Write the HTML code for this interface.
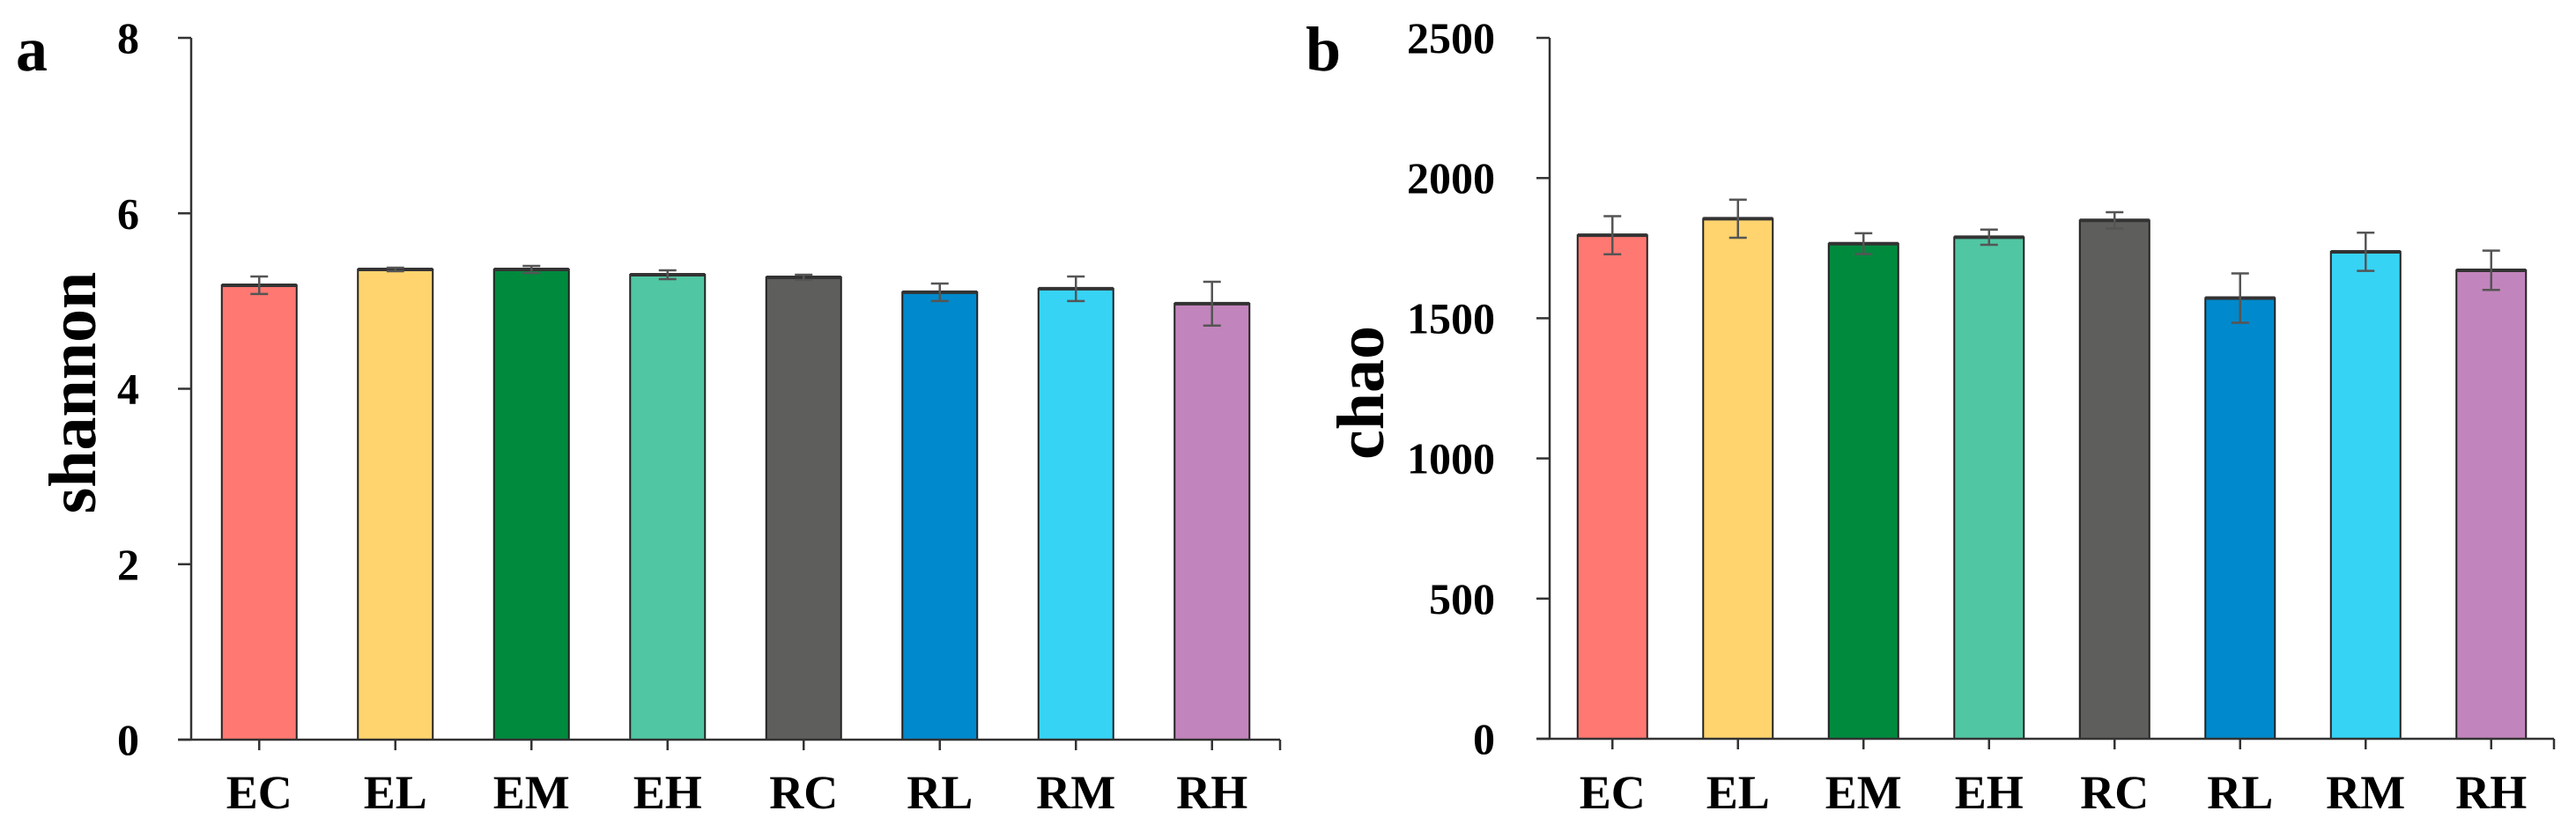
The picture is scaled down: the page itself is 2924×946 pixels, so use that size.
<!DOCTYPE html>
<html><head><meta charset="utf-8">
<style>
html,body{margin:0;padding:0;background:#fff;}
svg{display:block;font-family:"Liberation Serif",serif;font-weight:bold;}
</style></head>
<body>
<svg id="fig" width="2924" height="946" viewBox="0 0 2924 946" xmlns="http://www.w3.org/2000/svg">
<text x="18" y="80" font-size="72">a</text>
<text x="1482" y="80" font-size="72">b</text>
<g id="chartA"></g>
<g id="chartB"></g>
</svg>
<script>
const categories = ["EC","EL","EM","EH","RC","RL","RM","RH"];
const colors = ["#FF7872","#FFD46E","#008A3E","#50C6A2","#5E5E5C","#0089CC","#36D3F5","#C284BC"];
const shannonValues = [5.18,5.36,5.36,5.30,5.27,5.10,5.14,4.97];
const shannonErrors = [0.10,0.02,0.04,0.05,0.03,0.10,0.14,0.25];
const shannonTicks = [0,2,4,6,8];
const chaoValues = [1796,1855,1766,1789,1849,1572,1737,1671];
const chaoErrors = [68,68,37,27,29,88,68,70];
const chaoTicks = [0,500,1000,1500,2000,2500];

const NS="http://www.w3.org/2000/svg";
function mk(parent,tag,attrs){const e=document.createElementNS(NS,tag);for(const k in attrs)e.setAttribute(k,attrs[k]);parent.appendChild(e);return e;}

function drawChart(g, cfg, values, errors, ticks){
  const {x0,x1,y0,yTop,max,barW,title,titleX,labelRight} = cfg;
  const band=(x1-x0)/categories.length;
  const yS=v=>y0-(v/max)*(y0-yTop);
  const xC=i=>x0+band*(i+0.5);
  // bars
  values.forEach((v,i)=>{
    const r=mk(g,'rect',{x:xC(i)-barW/2,y:yS(v),width:barW,height:y0-yS(v),fill:colors[i],stroke:'#222','stroke-width':2});
    
    
    const t=mk(g,'line',{x1:xC(i)-barW/2,x2:xC(i)+barW/2,y1:yS(v),y2:yS(v),stroke:'#333','stroke-width':4});
    
    
    const e=errors[i];
    const eg=mk(g,'g',{stroke:'#555','stroke-width':2.5});
    
    
    mk(eg,'line',{x1:xC(i),x2:xC(i),y1:yS(v+e),y2:yS(v-e)});
    mk(eg,'line',{x1:xC(i)-10,x2:xC(i)+10,y1:yS(v+e),y2:yS(v+e)});
    mk(eg,'line',{x1:xC(i)-10,x2:xC(i)+10,y1:yS(v-e),y2:yS(v-e)});
    const lb=mk(g,'text',{x:xC(i),y:918,'font-size':54,'text-anchor':'middle',fill:'#000'});
    lb.textContent=categories[i];
    
    
    const tk=mk(g,'line',{x1:xC(i),x2:xC(i),y1:y0,y2:y0+12,stroke:'#333','stroke-width':2.5});
    
    
  });
  // axes
  const ya=mk(g,'line',{x1:x0,x2:x0,y1:yTop,y2:y0,stroke:'#333','stroke-width':2.5});
  
  
  const xa=mk(g,'line',{x1:x0-15,x2:x1,y1:y0,y2:y0,stroke:'#333','stroke-width':2.5});
  
  
  const et=mk(g,'line',{x1:x1,x2:x1,y1:y0,y2:y0+12,stroke:'#333','stroke-width':2.5});
  
  
  ticks.forEach(t=>{
    const l=mk(g,'line',{x1:x0-15,x2:x0,y1:yS(t),y2:yS(t),stroke:'#333','stroke-width':2.5});
    
    
    const tx=mk(g,'text',{x:labelRight,y:yS(t)+17,'font-size':50,'text-anchor':'end',fill:'#000'});
    tx.textContent=t;
    
    
  });
  const yt=mk(g,'text',{x:titleX,y:446,'font-size':76,'text-anchor':'middle',fill:'#000',transform:`rotate(-90 ${titleX} 446)`});
  yt.textContent=title;
  
  
}
drawChart(document.getElementById('chartA'),{x0:217,x1:1453,y0:840,yTop:43,max:8,barW:85,title:'shannon',titleX:108,labelRight:158},shannonValues,shannonErrors,shannonTicks);
drawChart(document.getElementById('chartB'),{x0:1759,x1:2899,y0:839,yTop:43,max:2500,barW:79,title:'chao',titleX:1570,labelRight:1697},chaoValues,chaoErrors,chaoTicks);
</script>
</body></html>
